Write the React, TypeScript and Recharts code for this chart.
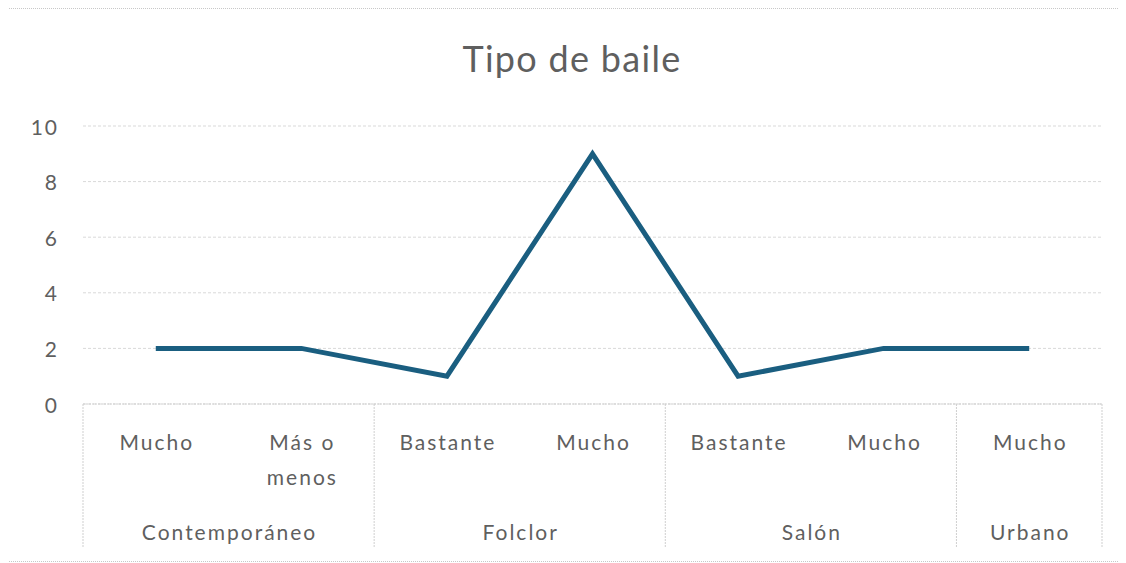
import React from "react";
import { LineChart, Line, XAxis, YAxis, CartesianGrid } from "recharts";

// Chart values
const LEVELS = ["Mucho", "Más o menos", "Bastante", "Mucho", "Bastante", "Mucho", "Mucho"];
const GROUPS = ["Contemporáneo", "Contemporáneo", "Folclor", "Folclor", "Salón", "Salón", "Urbano"];
const VALUES = [2, 2, 1, 9, 1, 2, 2];
const Y_TICKS = [0, 2, 4, 6, 8, 10];

const data = LEVELS.map((level, i) => ({
  key: `${GROUPS[i]}|${level}|${i}`,
  level,
  group: GROUPS[i],
  value: VALUES[i],
}));

// Layout
const W = 1111;
const H = 552;
const MARGIN = { top: 117, right: 17, bottom: 13, left: 25 };
const Y_AXIS_W = 50;
const X_AXIS_H = 144;
const PLOT_W = W - MARGIN.left - MARGIN.right - Y_AXIS_W;
const PLOT_H = H - MARGIN.top - MARGIN.bottom - X_AXIS_H;
const AXIS_Y = MARGIN.top + PLOT_H;
const STEP = PLOT_W / LEVELS.length;

const TEXT = "#5f5f5f";
const SEP = "#cfcfcf";
const FONT = "Lato, 'Open Sans', sans-serif";
const FS = 21;
const LS = 2;

const wrap = (s: string) => {
  const words = s.split(" ");
  if (words.length < 2) return [s];
  return [words.slice(0, -1).join(" "), words[words.length - 1]];
};

const XTick = (props: any) => {
  const { x, index } = props;
  const i = index as number;
  const lines = wrap(LEVELS[i]);
  const isGroupStart = i === 0 || GROUPS[i - 1] !== GROUPS[i];
  let groupLen = 0;
  if (isGroupStart) {
    let j = i;
    while (j < GROUPS.length && GROUPS[j] === GROUPS[i]) j++;
    groupLen = j - i;
  }
  return (
    <g>
      {lines.map((ln, k) => (
        <text
          key={k}
          x={x + LS / 2}
          y={AXIS_Y + 37 + k * 35}
          textAnchor="middle"
          dominantBaseline="central"
          fill={TEXT}
          fontSize={FS}
          letterSpacing={LS}
          fontFamily={FONT}
        >
          {ln}
        </text>
      ))}
      {isGroupStart && (
        <>
          <line
            x1={x - STEP / 2}
            x2={x - STEP / 2}
            y1={AXIS_Y}
            y2={AXIS_Y + X_AXIS_H}
            stroke={SEP}
            strokeDasharray="2 1"
          />
          <text
            x={x + ((groupLen - 1) * STEP) / 2 + LS / 2}
            y={AXIS_Y + 127}
            textAnchor="middle"
            dominantBaseline="central"
            fill={TEXT}
            fontSize={FS}
            letterSpacing={LS}
            fontFamily={FONT}
          >
            {GROUPS[i]}
          </text>
        </>
      )}
      {i === LEVELS.length - 1 && (
        <line
          x1={x + STEP / 2}
          x2={x + STEP / 2}
          y1={AXIS_Y}
          y2={AXIS_Y + X_AXIS_H}
          stroke={SEP}
          strokeDasharray="2 1"
        />
      )}
    </g>
  );
};

const YTick = (props: any) => (
  <text
    x={MARGIN.left + Y_AXIS_W - 24}
    y={props.y}
    textAnchor="end"
    dominantBaseline="central"
    fill={TEXT}
    fontSize={FS}
    letterSpacing={LS}
    fontFamily={FONT}
  >
    {props.payload.value}
  </text>
);

export default function App() {
  return (
    <div
      style={{
        position: "relative",
        marginLeft: -1,
        width: W,
        height: H,
        border: "1px dotted #c8c8c8",
        background: "#fff",
      }}
    >
      <div
        style={{
          position: "absolute",
          left: 0,
          top: 31,
          width: 1128,
          textAlign: "center",
          fontFamily: FONT,
          fontSize: 36,
          lineHeight: "36px",
          letterSpacing: 1.3,
          color: TEXT,
        }}
      >
        Tipo de baile
      </div>
      <LineChart width={W} height={H} data={data} margin={MARGIN}>
        <CartesianGrid vertical={false} stroke="#d9d9d9" strokeDasharray="3 2" />
        <XAxis
          dataKey="key"
          type="category"
          height={X_AXIS_H}
          padding={{ left: STEP / 2, right: STEP / 2 }}
          interval={0}
          tickLine={false}
          axisLine={{ stroke: SEP, strokeDasharray: "2 1" }}
          tick={<XTick />}
        />
        <YAxis
          width={Y_AXIS_W}
          domain={[0, 10]}
          ticks={Y_TICKS}
          axisLine={false}
          tickLine={false}
          tick={<YTick />}
        />
        <Line
          type="linear"
          dataKey="value"
          stroke="#1A5E80"
          strokeWidth={5}
          dot={false}
          activeDot={false}
          isAnimationActive={false}
        />
      </LineChart>
    </div>
  );
}
